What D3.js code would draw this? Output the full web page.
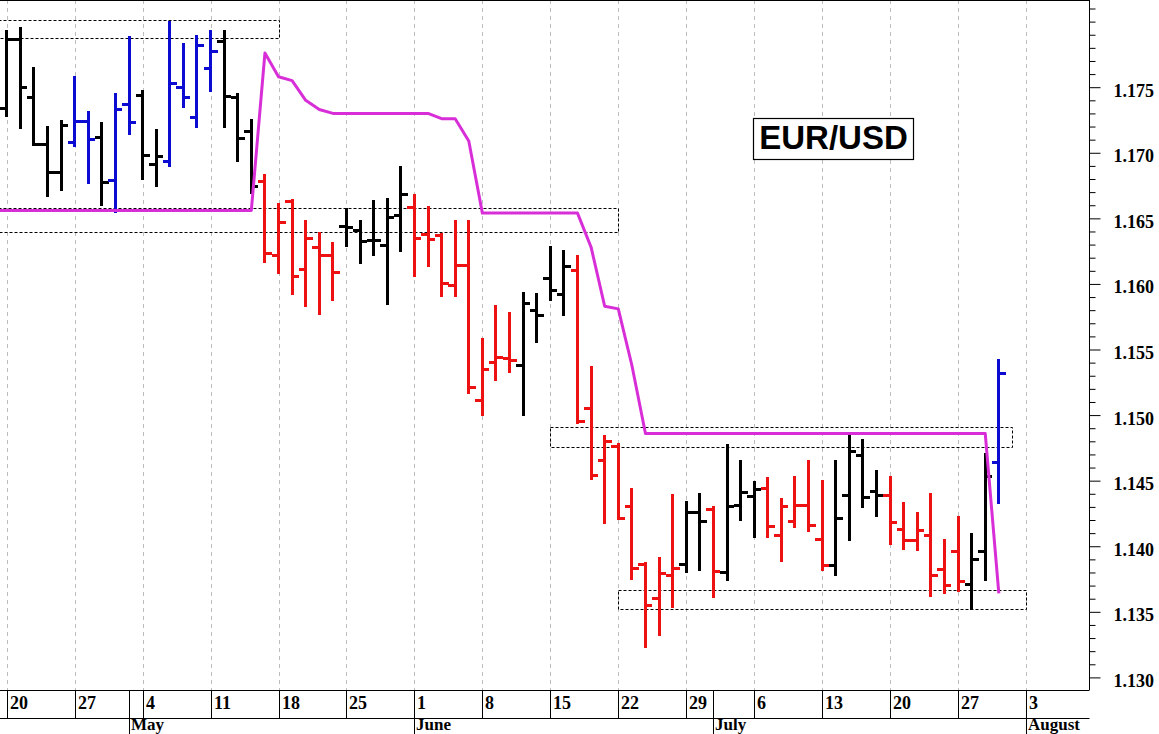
<!DOCTYPE html>
<html><head><meta charset="utf-8">
<script src="https://cdn.jsdelivr.net/npm/d3@7"></script>
<style>body{margin:0;background:#fff}svg{display:block}</style>
</head><body><svg id="c" width="1159" height="734"></svg>
<script>
// Trading days (index 0 = Apr 17, off-chart left)
const days = [
 "2020-04-17",
 "2020-04-20","2020-04-21","2020-04-22","2020-04-23","2020-04-24",
 "2020-04-27","2020-04-28","2020-04-29","2020-04-30","2020-05-01",
 "2020-05-04","2020-05-05","2020-05-06","2020-05-07","2020-05-08",
 "2020-05-11","2020-05-12","2020-05-13","2020-05-14","2020-05-15",
 "2020-05-18","2020-05-19","2020-05-20","2020-05-21","2020-05-22",
 "2020-05-25","2020-05-26","2020-05-27","2020-05-28","2020-05-29",
 "2020-06-01","2020-06-02","2020-06-03","2020-06-04","2020-06-05",
 "2020-06-08","2020-06-09","2020-06-10","2020-06-11","2020-06-12",
 "2020-06-15","2020-06-16","2020-06-17","2020-06-18","2020-06-19",
 "2020-06-22","2020-06-23","2020-06-24","2020-06-25","2020-06-26",
 "2020-06-29","2020-06-30","2020-07-01","2020-07-02","2020-07-03",
 "2020-07-06","2020-07-07","2020-07-08","2020-07-09","2020-07-10",
 "2020-07-13","2020-07-14","2020-07-15","2020-07-16","2020-07-17",
 "2020-07-20","2020-07-21","2020-07-22","2020-07-23","2020-07-24",
 "2020-07-27","2020-07-28","2020-07-29","2020-07-30","2020-07-31",
 "2020-08-03","2020-08-04","2020-08-05","2020-08-06","2020-08-07"
];

// OHLC bars: Apr 20 .. Jul 30
const open = [1.1734,1.1786,1.1742,1.1706,1.1685,1.1708,1.1724,1.1712,1.1679,1.1737,
 1.1744,1.1691,1.1693,1.1750,1.1727,1.1764,1.1785,1.1742,1.1716,1.1678,
 1.1622,1.1663,1.1611,1.1628,1.1622,1.1644,1.1641,1.1633,1.1629,1.1652,
 1.1658,1.1638,1.1637,1.1599,1.1614,1.1511,1.1540,1.1543,1.1538,1.1580,
 1.1604,1.1592,1.1610,1.1505,1.1465,1.1476,1.1430,1.1386,1.1360,1.1378,
 1.1386,1.1426,1.1428,1.1380,1.1431,1.1438,1.1444,1.1408,1.1419,1.1431,
 1.1405,1.1385,1.1439,1.1469,1.1442,1.1439,1.1413,1.1404,1.1408,1.1382,
 1.1396,1.1371,1.1396,1.1464];
const high = [1.1793,1.1795,1.1765,1.1720,1.1724,1.1758,1.1731,1.1723,1.1745,1.1788,
 1.1747,1.1717,1.1800,1.1783,1.1789,1.1793,1.1793,1.1745,1.1725,1.1683,
 1.1661,1.1664,1.1648,1.1639,1.1631,1.1657,1.1648,1.1663,1.1665,1.1689,
 1.1668,1.1659,1.1638,1.1648,1.1648,1.1558,1.1583,1.1578,1.1593,1.1592,
 1.1628,1.1625,1.1621,1.1537,1.1484,1.1478,1.1444,1.1387,1.1391,1.1439,
 1.1434,1.1440,1.1430,1.1477,1.1465,1.1449,1.1452,1.1436,1.1453,1.1465,
 1.1450,1.1465,1.1485,1.1481,1.1457,1.1453,1.1433,1.1425,1.1440,1.1405,
 1.1422,1.1409,1.1470,1.1542];
const low = [1.1728,1.1719,1.1706,1.1667,1.1672,1.1705,1.1677,1.1660,1.1655,1.1714,
 1.1680,1.1675,1.1690,1.1735,1.1720,1.1747,1.1720,1.1694,1.1669,1.1617,
 1.1608,1.1592,1.1583,1.1577,1.1588,1.1629,1.1616,1.1622,1.1585,1.1625,
 1.1606,1.1614,1.1591,1.1591,1.1517,1.1500,1.1527,1.1533,1.1500,1.1556,
 1.1588,1.1576,1.1494,1.1451,1.1418,1.1421,1.1375,1.1323,1.1332,1.1354,
 1.1380,1.1382,1.1361,1.1374,1.1420,1.1407,1.1407,1.1389,1.1415,1.1412,
 1.1382,1.1378,1.1405,1.1430,1.1423,1.1402,1.1398,1.1397,1.1362,1.1364,
 1.1366,1.1352,1.1374,1.1433];
const close = [1.1786,1.1750,1.1706,1.1685,1.1721,1.1724,1.1710,1.1677,1.1733,1.1723,
 1.1698,1.1697,1.1753,1.1742,1.1782,1.1777,1.1743,1.1711,1.1674,1.1623,
 1.1647,1.1606,1.1635,1.1622,1.1609,1.1643,1.1632,1.1633,1.1651,1.1668,
 1.1635,1.1634,1.1600,1.1614,1.1521,1.1535,1.1544,1.1542,1.1585,1.1576,
 1.1595,1.1613,1.1495,1.1454,1.1480,1.1421,1.1383,1.1355,1.1379,1.1383,
 1.1426,1.1419,1.1381,1.1430,1.1441,1.1443,1.1415,1.1430,1.1431,1.1416,
 1.1385,1.1421,1.1472,1.1437,1.1439,1.1418,1.1404,1.1412,1.1378,1.1370,
 1.1373,1.1390,1.1453,1.1532];
const tone = ["k","k","k","k","k","b","b","k","b","b",
 "k","k","b","b","b","b","k","k","k","r",
 "r","r","r","r","r","k","k","k","k","k",
 "r","r","r","r","r","r","r","r","k","k",
 "k","k","r","r","r","r","r","r","r","r",
 "k","k","r","k","k","k","r","r","r","r",
 "r","k","k","k","k","r","r","r","r","r",
 "r","k","k","b"];

// Magenta stop line: Apr 17 .. Jul 30
const stopLine = [1.1656,1.1656,1.1656,1.1656,1.1656,1.1656,1.1656,1.1656,1.1656,1.1656,
 1.1656,1.1656,1.1656,1.1656,1.1656,1.1656,1.1656,1.1656,1.1656,1.1656,
 1.1776,1.1758,1.1755,1.1740,1.1733,
 1.1730,1.1730,1.1730,1.1730,1.1730,1.1730,1.1730,1.1730,
 1.1726,1.1726,1.1709,
 1.1654,1.1654,1.1654,1.1654,1.1654,1.1654,1.1654,1.1654,
 1.1628,1.1583,1.1581,1.1538,
 1.1486,1.1486,1.1486,1.1486,1.1486,1.1486,1.1486,1.1486,1.1486,1.1486,
 1.1486,1.1486,1.1486,1.1486,1.1486,1.1486,1.1486,1.1486,1.1486,1.1486,
 1.1486,1.1486,1.1486,1.1486,1.1486,1.1486,
 1.1364];

// Dashed zones
const zoneFrom = ["2020-04-17","2020-04-17","2020-06-15","2020-06-22"];
const zoneTo   = ["2020-05-18","2020-06-22","2020-07-31","2020-08-03"];
const zoneHi   = [1.1801,1.16578,1.14908,1.13667];
const zoneLo   = [1.17875,1.16395,1.14755,1.13524];

// Axis labels
const weekStarts = ["2020-04-20","2020-04-27","2020-05-04","2020-05-11","2020-05-18","2020-05-25",
 "2020-06-01","2020-06-08","2020-06-15","2020-06-22","2020-06-29","2020-07-06","2020-07-13",
 "2020-07-20","2020-07-27","2020-08-03"];
const weekLabels = ["20","27","4","11","18","25","1","8","15","22","29","6","13","20","27","3"];
const monthStarts = ["2020-05-01","2020-06-01","2020-07-01","2020-08-03"];
const monthLabels = ["May","June","July","August"];
const yMajor = [1.130,1.135,1.140,1.145,1.150,1.155,1.160,1.165,1.170,1.175];
const yMinor = [1.131,1.132,1.133,1.134,1.136,1.137,1.138,1.139,1.141,1.142,1.143,1.144,
 1.146,1.147,1.148,1.149,1.151,1.152,1.153,1.154,1.156,1.157,1.158,1.159,1.161,1.162,1.163,1.164,
 1.166,1.167,1.168,1.169,1.171,1.172,1.173,1.174,1.176,1.177,1.178,1.179,1.180,1.181];
const title = "EUR/USD";

const W = 1159, H = 734, plotR = 1089, plotB = 690, rowB = 718;
const svg = d3.select("#c");
const idx = new Map(days.map((d, i) => [d, i]));
const x = d3.scaleLinear().domain([1, 76]).range([6.7, 1026]);
const xd = d => x(idx.get(d));
const y = d3.scaleLinear().domain([1.13, 1.175]).range([677.4, 87.2]);
const colors = {k: "#000000", r: "#ee1111", b: "#0b0bd2"};
const serif = "'Liberation Serif','Times New Roman',serif";

svg.append("rect").attr("width", W).attr("height", H).attr("fill", "#fff");
svg.append("defs").append("clipPath").attr("id", "plot")
  .append("rect").attr("x", 0).attr("y", 0).attr("width", plotR).attr("height", plotB);
const plot = svg.append("g").attr("clip-path", "url(#plot)");

// gridlines
plot.append("g").selectAll("line").data(weekStarts).join("line")
  .attr("x1", d => Math.round(xd(d)) + 0.5).attr("x2", d => Math.round(xd(d)) + 0.5)
  .attr("y1", 0).attr("y2", plotB)
  .attr("stroke", "#bdbdbd").attr("stroke-width", 1).attr("stroke-dasharray", "4,4");

// zones
plot.append("g").selectAll("rect").data(zoneFrom.map((f, i) => i)).join("rect")
  .attr("x", i => Math.round(xd(zoneFrom[i])) + 0.5)
  .attr("y", i => Math.round(y(zoneHi[i])) + 0.5)
  .attr("width", i => Math.round(xd(zoneTo[i])) - Math.round(xd(zoneFrom[i])))
  .attr("height", i => Math.round(y(zoneLo[i])) - Math.round(y(zoneHi[i])))
  .attr("fill", "none").attr("stroke", "#000").attr("stroke-width", 1)
  .attr("stroke-dasharray", "3,2");

// EUR/USD label box
const lb = svg.append("g");
lb.append("rect").attr("x", 753.5).attr("y", 118.5).attr("width", 160).attr("height", 41)
  .attr("fill", "#fff").attr("stroke", "#000").attr("stroke-width", 1.2);
lb.append("text").attr("x", 833.5).attr("y", 149).attr("text-anchor", "middle")
  .attr("font-family", "'Liberation Sans',Arial,sans-serif").attr("font-weight", "bold")
  .attr("font-size", 33).attr("fill", "#000").text(title);

// OHLC bars
const bars = open.map((o, i) => ({d: days[i + 1], o, h: high[i], l: low[i], c: close[i], t: tone[i]}));
const gb = plot.append("g").attr("stroke-width", 3).attr("shape-rendering", "crispEdges");
const bg = gb.selectAll("g").data(bars).join("g").attr("stroke", b => colors[b.t]);
bg.append("line").attr("x1", b => xd(b.d)).attr("x2", b => xd(b.d))
  .attr("y1", b => y(b.h) - 1).attr("y2", b => y(b.l) + 1);
bg.append("line").attr("x1", b => xd(b.d) - 7).attr("x2", b => xd(b.d))
  .attr("y1", b => y(b.o)).attr("y2", b => y(b.o));
bg.append("line").attr("x1", b => xd(b.d)).attr("x2", b => xd(b.d) + 7)
  .attr("y1", b => y(b.c)).attr("y2", b => y(b.c));

// magenta line
plot.append("path").datum(stopLine)
  .attr("d", d3.line().x((v, i) => x(i)).y(v => y(v)))
  .attr("fill", "none").attr("stroke", "#d82ed8").attr("stroke-width", 3)
  .attr("stroke-linejoin", "round");

// frame
svg.append("line").attr("x1", 0).attr("x2", plotR + 0.5).attr("y1", 0.5).attr("y2", 0.5).attr("stroke", "#000");
svg.append("line").attr("x1", plotR + 0.5).attr("x2", plotR + 0.5).attr("y1", 0).attr("y2", plotB).attr("stroke", "#000");

// y axis
const ya = svg.append("g").attr("transform", `translate(${plotR + 0.5},0)`);
ya.call(d3.axisRight(y).tickValues(yMinor).tickSize(6).tickFormat(""));
ya.call(g => g.select(".domain").remove());
const yb = svg.append("g").attr("transform", `translate(${plotR + 0.5},0)`);
yb.call(d3.axisRight(y).tickValues(yMajor).tickSize(11).tickPadding(13).tickFormat(d3.format(".3f")));
yb.call(g => g.select(".domain").remove());
yb.selectAll("text").attr("font-family", serif).attr("font-weight", "bold")
  .attr("font-size", 18).attr("fill", "#000").attr("dy", "0.5em");
svg.selectAll(".tick line").attr("stroke", "#000");

// x axis (two rows)
const xa = svg.append("g");
xa.append("line").attr("x1", 0).attr("x2", plotR + 0.5).attr("y1", plotB + 0.5).attr("y2", plotB + 0.5).attr("stroke", "#000");
xa.append("line").attr("x1", 0).attr("x2", plotR + 0.5).attr("y1", rowB + 0.5).attr("y2", rowB + 0.5).attr("stroke", "#000");
const seps = Array.from(new Set(weekStarts.concat(monthStarts)));
xa.selectAll("line.sep").data(seps).join("line").attr("class", "sep")
  .attr("x1", d => Math.round(xd(d)) + 0.5).attr("x2", d => Math.round(xd(d)) + 0.5)
  .attr("y1", plotB).attr("y2", rowB).attr("stroke", "#000");
xa.selectAll("line.msep").data(monthStarts).join("line").attr("class", "msep")
  .attr("x1", d => Math.round(xd(d)) + 0.5).attr("x2", d => Math.round(xd(d)) + 0.5)
  .attr("y1", rowB).attr("y2", H).attr("stroke", "#000");
xa.selectAll("text.wk").data(weekStarts).join("text").attr("class", "wk")
  .attr("x", d => Math.round(xd(d)) + 3).attr("y", 709)
  .attr("font-family", serif).attr("font-weight", "bold").attr("font-size", 18).attr("fill", "#000")
  .text((d, i) => weekLabels[i]);
xa.selectAll("text.mo").data(monthStarts).join("text").attr("class", "mo")
  .attr("x", d => Math.round(xd(d)) + 2).attr("y", 730)
  .attr("font-family", serif).attr("font-weight", "bold").attr("font-size", 17).attr("fill", "#000")
  .text((d, i) => monthLabels[i]);
</script></body></html>
